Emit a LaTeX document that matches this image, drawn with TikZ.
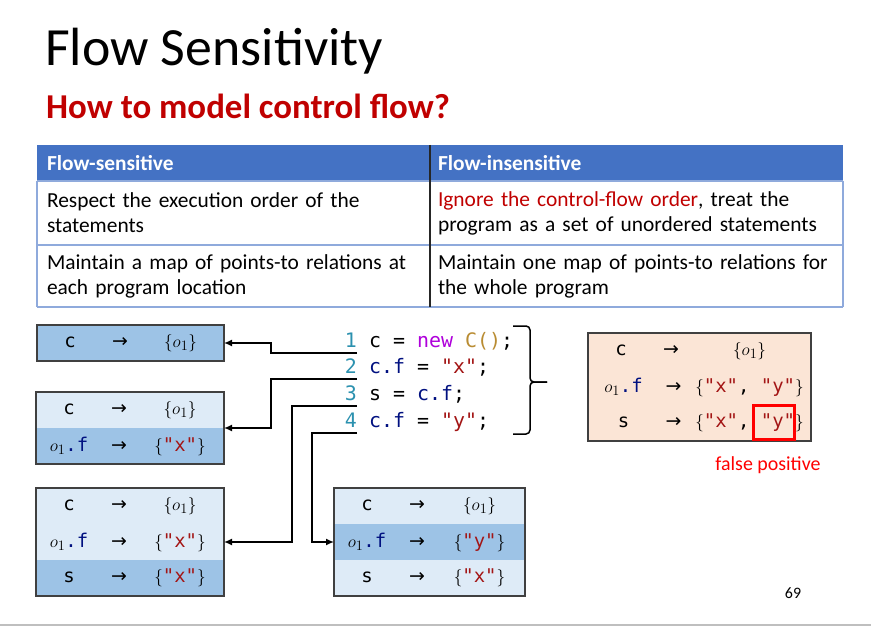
\documentclass[tikz,border=0pt]{standalone}
\usepackage{fontspec}
\setmainfont{Carlito}
\setmonofont{DejaVu Sans Mono}
\newfontfamily\arrowfont{DejaVu Sans}
\usepackage{xcolor}
\usepackage{tikz}
\usetikzlibrary{positioning,arrows.meta}
\definecolor{hdrblue}{RGB}{68,114,196}
\definecolor{rowline}{RGB}{143,170,220}
\definecolor{titlered}{RGB}{192,0,0}
\definecolor{lightcell}{RGB}{222,235,247}
\definecolor{midcell}{RGB}{157,195,230}
\definecolor{peach}{RGB}{251,229,214}
\definecolor{boxgray}{RGB}{64,64,64}
\definecolor{numteal}{RGB}{43,145,175}
\definecolor{kwpurple}{RGB}{175,0,219}
\definecolor{clsgold}{RGB}{185,140,50}
\definecolor{fldnavy}{RGB}{0,16,128}
\definecolor{strred}{RGB}{163,21,21}
\definecolor{fpred}{RGB}{255,0,0}
\definecolor{footgray}{RGB}{191,191,191}
\hyphenpenalty=10000
\exhyphenpenalty=10000
% one row of a points-to map: variable, arrow, target set
\newcommand{\ptrow}[3][87bp]{\makebox[66bp]{#2}\makebox[34bp]{{\arrowfont →}}\makebox[#1]{#3}}
\newcommand{\objset}{$\{o_1\}$}
\newcommand{\objf}{$o_1$\texttt{\textcolor{fldnavy}{.f}}}
\newcommand{\strset}[1]{$\{$\texttt{\textcolor{strred}{"#1"}}$\}$}
\tikzset{
    hdr/.style={fill=hdrblue, text=white, font=\fontsize{21.5}{25}\selectfont\bfseries, anchor=north west, minimum height=36bp, text width=373bp, inner xsep=10bp, inner ysep=0pt, outer sep=0pt, align=left},
    cell/.style={fill=white, font=\fontsize{21.5}{25}\selectfont, anchor=north west, text width=373bp, inner xsep=10bp, inner ysep=0pt, outer sep=0pt, align=left},
    rowrule/.style={draw=rowline, line width=1.5bp},
    colrule/.style={draw=black!85, line width=1.2bp},
    codenum/.style={anchor=base east, inner sep=0pt, text depth=6bp, font=\fontsize{20}{24}\selectfont\ttfamily, text=numteal},
    codeline/.style={anchor=base west, inner sep=0pt, font=\fontsize{20}{24}\selectfont\ttfamily},
    maprow/.style={anchor=north west, inner sep=0pt, outer sep=0pt, minimum height=36bp, font=\fontsize{19}{22}\selectfont},
    mapframe/.style={draw=boxgray, line width=1.5bp},
    link/.style={draw=black, line width=1.5bp, -{Latex[length=8bp,width=7bp]}},
    codebrace/.style={draw=black, line width=1.5bp, rounded corners=4bp},
    fpbox/.style={draw=fpred, line width=3bp}
}
\begin{document}
\begin{tikzpicture}[x=1bp,y=-1bp]
\fill[white] (0,0) rectangle (871,626);
\useasboundingbox (0,0) rectangle (871,626);
% title
\node[anchor=base west, inner sep=0pt, font=\fontsize{54}{64}\selectfont] (title) at (45,66) {Flow Sensitivity};
\node[anchor=base west, inner sep=0pt, font=\fontsize{35}{42}\selectfont\bfseries, text=titlered] (sub) at (46,119) {How to model control flow?};
% comparison table
\node[hdr] (hl) at (37,145) {Flow-sensitive};
\node[hdr, text width=403bp, inner xsep=5bp] (hr) at (430,145) {\hspace{3bp}Flow-insensitive};
\node[cell, minimum height=64bp] (c1l) at (37,181) {Respect the execution order of the statements};
\node[cell, minimum height=64bp, text width=403bp, inner xsep=5bp] (c1r) at (430,181) {\hspace{3bp}\textcolor{titlered}{Ignore the control-flow order}, treat the\\\hspace{3bp}program as a set of unordered statements};
\node[cell, minimum height=62bp] (c2l) at (37,245) {Maintain a map of points-to relations at each program location};
\node[cell, minimum height=62bp, text width=403bp, inner xsep=5bp] (c2r) at (430,245) {\hspace{3bp}Maintain one map of points-to relations for\\\hspace{3bp}the whole program};
\draw[rowrule] (c1l.north west) -- (c1r.north east);
\draw[rowrule] (c2l.north west) -- (c2r.north east);
\draw[rowrule] (c2l.south west) -- (c2r.south east);
\draw[rowrule] (c1l.north west) -- (c2l.south west);
\draw[rowrule] (c1r.north east) -- (c2r.south east);
\draw[colrule] (hl.north east) -- (c2l.south east);
% program
\node[codenum] (n1) at (357,347) {1};
\node[codeline] (k1) at (n1.base east) {\ c = \textcolor{kwpurple}{new} \textcolor{clsgold}{C()};};
\node[codenum] (n2) at (357,373) {2};
\node[codeline] (k2) at (n2.base east) {\ \textcolor{fldnavy}{c.f} = \textcolor{strred}{"x"};};
\node[codenum] (n3) at (357,400) {3};
\node[codeline] (k3) at (n3.base east) {\ s = \textcolor{fldnavy}{c.f};};
\node[codenum] (n4) at (357,427) {4};
\node[codeline] (k4) at (n4.base east) {\ \textcolor{fldnavy}{c.f} = \textcolor{strred}{"y"};};
\draw[codebrace] (547,382) -- (530,382) |- (513,326);
\draw[codebrace] (547,382) -- (530,382) |- (513,434);
% flow-sensitive maps
\node[maprow, fill=midcell] (b1) at (37,325) {\ptrow{\texttt{c}}{\objset}};
\draw[mapframe] (b1.north west) rectangle (b1.south east);
\node[maprow, fill=lightcell] (b2a) at (36,392) {\ptrow[88bp]{\texttt{c}}{\objset}};
\node[maprow, fill=midcell, below=0pt of b2a] (b2b) {\ptrow[88bp]{\objf}{\strset{x}}};
\draw[mapframe] (b2a.north west) rectangle (b2b.south east);
\node[maprow, fill=lightcell] (b3a) at (36,488) {\ptrow[88bp]{\texttt{c}}{\objset}};
\node[maprow, fill=lightcell, below=0pt of b3a] (b3b) {\ptrow[88bp]{\objf}{\strset{x}}};
\node[maprow, fill=midcell, below=0pt of b3b] (b3c) {\ptrow[88bp]{\texttt{s}}{\strset{x}}};
\draw[mapframe] (b3a.north west) rectangle (b3c.south east);
\node[maprow, fill=lightcell] (b4a) at (334,488) {\ptrow[91bp]{\texttt{c}}{\objset}};
\node[maprow, fill=midcell, below=0pt of b4a] (b4b) {\ptrow[91bp]{\objf}{\strset{y}}};
\node[maprow, fill=lightcell, below=0pt of b4b] (b4c) {\ptrow[91bp]{\texttt{s}}{\strset{x}}};
\draw[mapframe] (b4a.north west) rectangle (b4c.south east);
% flow-insensitive map
\node[maprow, fill=peach, minimum width=223bp] (ra) at (588,333) {\ptrow[123bp]{\texttt{c}}{\objset}};
\node[maprow, fill=peach, minimum width=223bp, below=0pt of ra] (rb) {\ptrow[118bp]{\objf}{$\{$\texttt{\textcolor{strred}{"x"}, \textcolor{strred}{"y"}}$\}$}\hspace{5bp}};
\node[maprow, fill=peach, minimum width=223bp, below=0pt of rb] (rc) {\ptrow[118bp]{\texttt{s}}{$\{$\texttt{\textcolor{strred}{"x"}, \textcolor{strred}{"y"}}$\}$}\hspace{5bp}};
\draw[mapframe] (ra.north west) rectangle (rc.south east);
\draw[fpbox] (753,405) rectangle (794,439);
\node[font=\fontsize{20}{24}\selectfont, text=fpred] (fp) at (768,465) {false positive};
% statements to maps
\draw[link] (n1.south east) -- ++(-86,0) |- (b1.east);
\draw[link] (n2.south east) -- ++(-86,0) |- (b2a.south east);
\draw[link] (n3.south east) -- ++(-65,0) |- (b3b.east);
\draw[link] (n4.south east) -- ++(-45,0) |- (b4b.west);
% footer
\node[font=\fontsize{16}{19}\selectfont] (pg) at (793,593) {69};
\draw[footgray, line width=2bp] (0,625) -- (871,625);
\end{tikzpicture}
\end{document}
